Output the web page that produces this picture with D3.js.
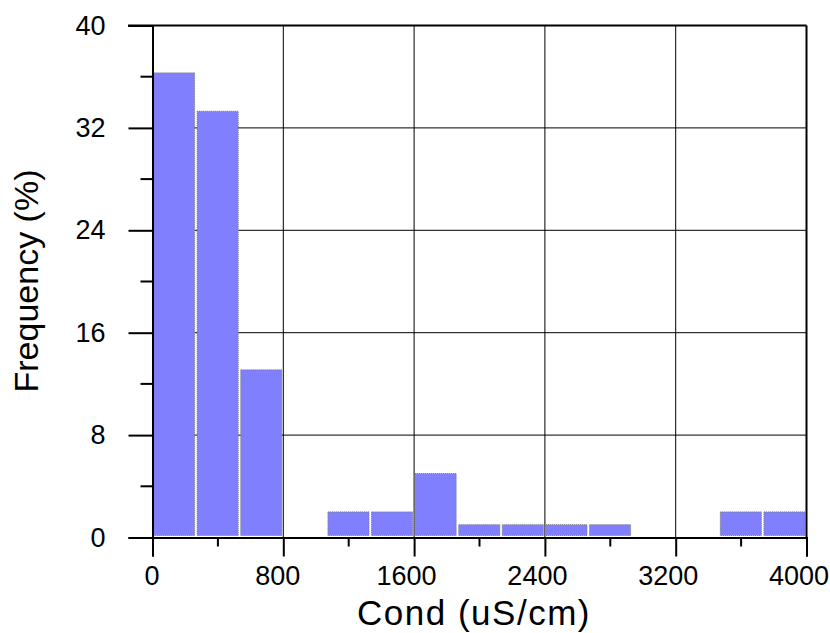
<!DOCTYPE html>
<html>
<head>
<meta charset="utf-8">
<script src="https://cdn.jsdelivr.net/npm/d3@7"></script>
<style>
  body { margin: 0; background: #fff; }
  text { font-family: "Liberation Sans", Arial, sans-serif; }
</style>
</head>
<body>
<svg id="chart" width="830" height="633"></svg>
<script>
// histogram bins (uS/cm) and frequency (%)
const binStart = [0, 266.67, 533.33, 800, 1066.67, 1333.33, 1600, 1866.67, 2133.33, 2400, 2666.67, 2933.33, 3200, 3466.67, 3733.33];
const binWidth = 266.67;
const freq = [36.3, 33.3, 13.1, 0, 2, 2, 5, 1, 1, 1, 1, 0, 0, 2, 2];
const xTicks = [0, 800, 1600, 2400, 3200, 4000];
const yTicks = [0, 8, 16, 24, 32, 40];

const svg = d3.select('#chart');
const mLeft = 152.5, mRight = 806.5, mTop = 25.5, mBottom = 537.5;

const x = d3.scaleLinear().domain([0, 4000]).range([mLeft, mRight]);
const y = d3.scaleLinear().domain([0, 40]).range([mBottom, mTop]);

// grid
svg.append('g').selectAll('line')
  .data(xTicks.slice(1, -1))
  .join('line')
  .attr('x1', d => x(d)).attr('x2', d => x(d))
  .attr('y1', mTop).attr('y2', mBottom)
  .attr('stroke', '#000').attr('stroke-width', 1);
svg.append('g').selectAll('line')
  .data(yTicks.slice(1, -1))
  .join('line')
  .attr('x1', mLeft).attr('x2', mRight)
  .attr('y1', d => y(d)).attr('y2', d => y(d))
  .attr('stroke', '#000').attr('stroke-width', 1);

// bars
const data = binStart.map((s, i) => ({ s: s, v: freq[i] })).filter(d => d.v > 0);
svg.append('g').selectAll('rect')
  .data(data)
  .join('rect')
  .attr('x', d => x(d.s) + 1)
  .attr('width', d => x(d.s + binWidth) - x(d.s) - 2.5)
  .attr('y', d => y(d.v))
  .attr('height', d => y(0) - 2 - y(d.v))
  .attr('fill', '#8080ff')
  .attr('stroke', '#777')
  .attr('stroke-width', 1)
  .attr('stroke-dasharray', '1,1');

// frame: top and right
svg.append('line').attr('x1', 128).attr('x2', mRight).attr('y1', mTop).attr('y2', mTop)
  .attr('stroke', '#000').attr('stroke-width', 2);
svg.append('line').attr('x1', mRight).attr('x2', mRight).attr('y1', mTop).attr('y2', mBottom)
  .attr('stroke', '#000').attr('stroke-width', 2);

// y axis
const yAxis = svg.append('g').attr('transform', `translate(${mLeft},0)`)
  .call(d3.axisLeft(y).tickValues(yTicks).tickSize(24).tickPadding(23).tickFormat(d3.format('d')));
yAxis.select('.domain').attr('stroke-width', 2);
yAxis.selectAll('.tick line').attr('stroke-width', 2);
yAxis.selectAll('.tick text').attr('font-size', 27).attr('fill', '#000')
  .attr('font-family', '"Liberation Sans", Arial, sans-serif');
svg.append('g').selectAll('line')
  .data(d3.range(4, 40, 8))
  .join('line')
  .attr('x1', mLeft - 12).attr('x2', mLeft)
  .attr('y1', d => y(d)).attr('y2', d => y(d))
  .attr('stroke', '#000').attr('stroke-width', 2);

// x axis
const xAxis = svg.append('g').attr('transform', `translate(0,${mBottom})`)
  .call(d3.axisBottom(x).tickValues(xTicks).tickSize(19).tickPadding(9).tickFormat(d3.format('d')));
xAxis.select('.domain').attr('stroke-width', 2);
xAxis.selectAll('.tick line').attr('stroke-width', 2);
xAxis.selectAll('.tick text').attr('font-size', 27).attr('fill', '#000')
  .attr('font-family', '"Liberation Sans", Arial, sans-serif')
  .attr('dx', d => String(d).length > 3 ? -8 : (String(d).length > 1 ? -6 : -1));
svg.append('g').selectAll('line')
  .data(d3.range(400, 4000, 800))
  .join('line')
  .attr('x1', d => x(d)).attr('x2', d => x(d))
  .attr('y1', mBottom).attr('y2', mBottom + 9)
  .attr('stroke', '#000').attr('stroke-width', 2);

// titles
svg.append('text')
  .attr('x', 474).attr('y', 625)
  .attr('text-anchor', 'middle')
  .attr('font-size', 35)
  .attr('letter-spacing', 1.5)
  .text('Cond (uS/cm)');
svg.append('text')
  .attr('transform', `translate(38,281) rotate(-90)`)
  .attr('text-anchor', 'middle')
  .attr('font-size', 34)
  .text('Frequency (%)');
</script>
</body>
</html>
